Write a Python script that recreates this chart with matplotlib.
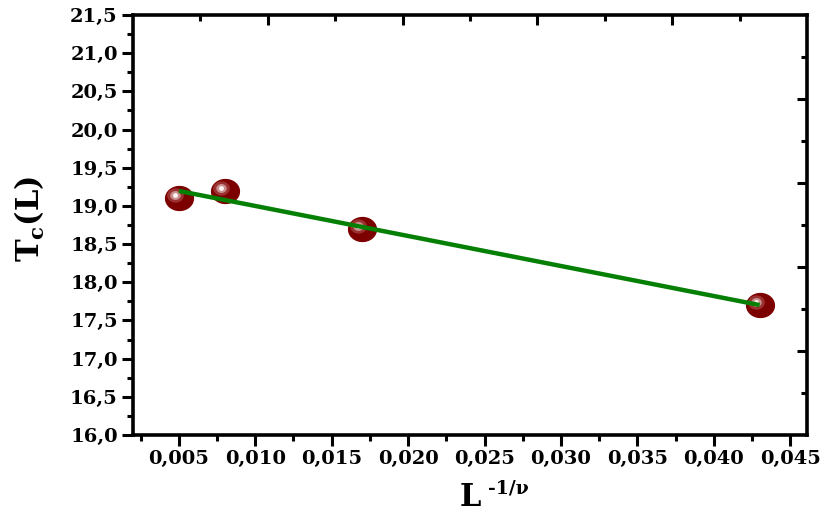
import numpy as np
import matplotlib
matplotlib.use('Agg')
import matplotlib.pyplot as plt
from matplotlib.path import Path
from matplotlib.transforms import offset_copy

# data
L_inv = [0.005, 0.008, 0.017, 0.043]
Tc    = [19.1, 19.2, 18.7, 17.7]

x_ticks  = [0.005, 0.010, 0.015, 0.020, 0.025, 0.030, 0.035, 0.040, 0.045]
x_labels = ['0,005', '0,010', '0,015', '0,020', '0,025', '0,030', '0,035', '0,040', '0,045']
y_ticks  = [16.0, 16.5, 17.0, 17.5, 18.0, 18.5, 19.0, 19.5, 20.0, 20.5, 21.0, 21.5]
y_labels = ['16,0', '16,5', '17,0', '17,5', '18,0', '18,5', '19,0', '19,5', '20,0', '20,5', '21,0', '21,5']

plt.rcParams['font.family'] = 'DejaVu Serif'
plt.rcParams['font.weight'] = 'bold'
plt.rcParams['axes.labelweight'] = 'bold'
plt.rcParams['mathtext.fontset'] = 'dejavuserif'

fig = plt.figure(figsize=(8.23, 5.15), dpi=100)
rect = [133/823, 1 - 435/515, 674/823, 420/515]
ax = fig.add_axes(rect)

# squashed ellipse marker with a soft highlight
t = np.linspace(0, 2*np.pi, 60)
ell = Path(np.column_stack([np.cos(t), 0.86*np.sin(t)]), closed=True)

ax.plot(L_inv, Tc, ls='none', marker=ell, ms=20, mfc='#7d0000', mec='#7d0000', zorder=3)
hl = offset_copy(ax.transData, fig=fig, x=-4, y=3, units='dots')
ax.plot(L_inv, Tc, ls='none', marker=ell, ms=12, mfc='#9a3030', mec='none', transform=hl, zorder=4)
ax.plot(L_inv, Tc, ls='none', marker=ell, ms=7.5, mfc='#c98f8f', mec='none', transform=hl, zorder=4)
ax.plot(L_inv, Tc, ls='none', marker='o', ms=3.5, mfc='#fdf4f4', mec='none', transform=hl, zorder=5)

# linear fit
k, b = np.polyfit(L_inv, Tc, 1)
xf = np.array([min(L_inv), max(L_inv)])
ax.plot(xf, k*xf + b, color='#058005', lw=3.2, solid_capstyle='butt', zorder=6)

ax.set_xlim(0.002, 0.0461)
ax.set_ylim(16.0, 21.5)
ax.set_xticks(x_ticks)
ax.set_xticklabels(x_labels)
ax.set_xticks(np.arange(0.0025, 0.046, 0.005), minor=True)
ax.set_yticks(y_ticks)
ax.set_yticklabels(y_labels)
ax.set_yticks(np.arange(16.25, 21.5, 0.5), minor=True)
ax.tick_params(which='major', direction='out', length=8, width=2.2, labelsize=14, pad=3)
ax.tick_params(which='minor', direction='out', length=4, width=2.2)
for sp in ax.spines.values():
    sp.set_linewidth(2.6)

ax.set_xlabel('L', fontsize=22, fontweight='bold')
ax.xaxis.set_label_coords(0.50, -0.112)
ax.text(0.527, -0.106, '-1/\u03bd', transform=ax.transAxes, ha='left', va='top', fontsize=13.5)
ax.set_ylabel(r'$\mathbf{T}_{\mathbf{c}}\mathbf{(L)}$', fontsize=22)
ax.yaxis.set_label_coords(-0.128, 0.514)

# top / right axes with their own divisions (no labels)
ov = fig.add_axes(rect, frameon=False)
ov.set_xlim(0, 10)
ov.set_ylim(0, 10)
ov.xaxis.tick_top()
ov.yaxis.tick_right()
ov.set_xticks([2, 4, 6, 8])
ov.set_xticks([1, 3, 5, 7, 9], minor=True)
ov.set_yticks([2, 4, 6, 8])
ov.set_yticks([1, 3, 5, 7, 9], minor=True)
ov.tick_params(which='major', direction='in', length=7, width=2.2, labeltop=False, labelright=False)
ov.tick_params(which='minor', direction='in', length=4, width=2.2)
ov.patch.set_visible(False)

plt.savefig('out.png', dpi=100)
plt.close()
